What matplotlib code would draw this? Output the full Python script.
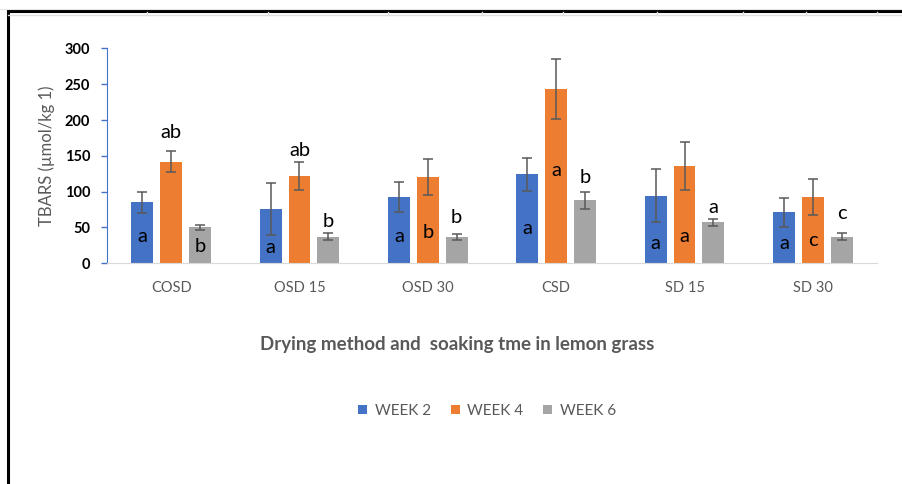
import numpy as np
import matplotlib.pyplot as plt
from matplotlib.lines import Line2D

plt.rcParams['font.family'] = ['Lato', 'DejaVu Sans']

groups = ["COSD", "OSD 15", "OSD 30", "CSD", "SD 15", "SD 30"]
series = ["WEEK 2", "WEEK 4", "WEEK 6"]

week2 = [85, 76, 92, 124, 94, 71]
week4 = [142, 122, 120, 243, 136, 92]
week6 = [50, 37, 37, 88, 57, 37]

week2_err = [15, 36, 21, 23, 37, 20]
week4_err = [15, 19, 25, 42, 34, 25]
week6_err = [4, 5, 4, 12, 5, 5]

week2_letters = ["a", "a", "a", "a", "a", "a"]
week4_letters = ["ab", "ab", "b", "a", "a", "c"]
week6_letters = ["b", "b", "b", "b", "a", "c"]

colors = ["#4472C4", "#ED7D31", "#A5A5A5"]
grey_txt = "#595959"

# where each significance letter sits (data units)
letter_y = [
    [37, 22, 37, 49, 27, 27],
    [182, 158, 43, 130, 38, 32],
    [23, 59, 64, 120, 78, 70],
]

fig = plt.figure(figsize=(9.02, 4.84), dpi=100)
ax = fig.add_axes([0.1186, 0.456, 0.8537, 0.444])

x = np.arange(len(groups))
offset = 0.225
width = 0.17

values = [week2, week4, week6]
errors = [week2_err, week4_err, week6_err]
letters = [week2_letters, week4_letters, week6_letters]

for i in range(3):
    xs = x + (i - 1) * offset
    ax.bar(xs, values[i], width, color=colors[i], label=series[i], zorder=2)
    ax.errorbar(xs, values[i], yerr=errors[i], fmt="none", ecolor=grey_txt,
                elinewidth=1.1, capsize=3.6, capthick=1.1, zorder=3)
    for xi, lab, ly in zip(xs, letters[i], letter_y[i]):
        ax.text(xi, ly, lab, ha="center", va="center", fontsize=14.5,
                color="black", zorder=4)

ax.set_xlim(-0.5, len(groups) - 0.5)
ax.set_ylim(0, 300)
ax.set_yticks(range(0, 301, 50))
ax.set_xticks(x)
ax.set_xticklabels(groups, color=grey_txt, fontsize=10.5)
for t in ax.get_yticklabels():
    t.set_fontweight("bold")
    t.set_fontsize(10.5)
ax.tick_params(axis="x", length=0, pad=13)
ax.tick_params(axis="y", length=4, width=1, color="#4472C4", pad=8)

for s in ["top", "right"]:
    ax.spines[s].set_visible(False)
ax.spines["left"].set_color("#4472C4")
ax.spines["bottom"].set_color("#D9D9D9")

ax.set_ylabel("TBARS (µmol/kg 1)", color=grey_txt, fontsize=12, labelpad=7)
ax.set_xlabel("Drying method and  soaking tme in lemon grass", color=grey_txt,
              fontsize=13.5, fontweight="bold")
ax.xaxis.label.set_va("center")
ax.xaxis.set_label_coords(0.4545, -0.38)

ax.legend(loc="center", bbox_to_anchor=(487 / 902, 1 - 411 / 484),
          bbox_transform=fig.transFigure, ncol=3, frameon=False,
          fontsize=11, labelcolor=grey_txt, handlelength=0.6,
          handleheight=0.6, handletextpad=0.5, columnspacing=1.3)

# sheet border and cell lines behind the chart
fig.add_artist(Line2D([8 / 902, 8 / 902], [0, 1 - 11 / 484], color="black", lw=2.2))
fig.add_artist(Line2D([8 / 902, 1], [1 - 11 / 484, 1 - 11 / 484], color="black", lw=2.2))
fig.add_artist(Line2D([8 / 902, 1], [1 - 15 / 484, 1 - 15 / 484], color="#E0E0E0", lw=1))
fig.add_artist(Line2D([0, 1], [1 - 9 / 484, 1 - 9 / 484], color="#E6E6E6", lw=0.8))
for cx in [147, 268, 388, 482, 563, 657, 743, 806, 877]:
    fig.add_artist(Line2D([cx / 902, cx / 902], [1 - 15 / 484, 1 - 12 / 484],
                          color="#E0E0E0", lw=1))

fig.savefig("out.png", dpi=100)
